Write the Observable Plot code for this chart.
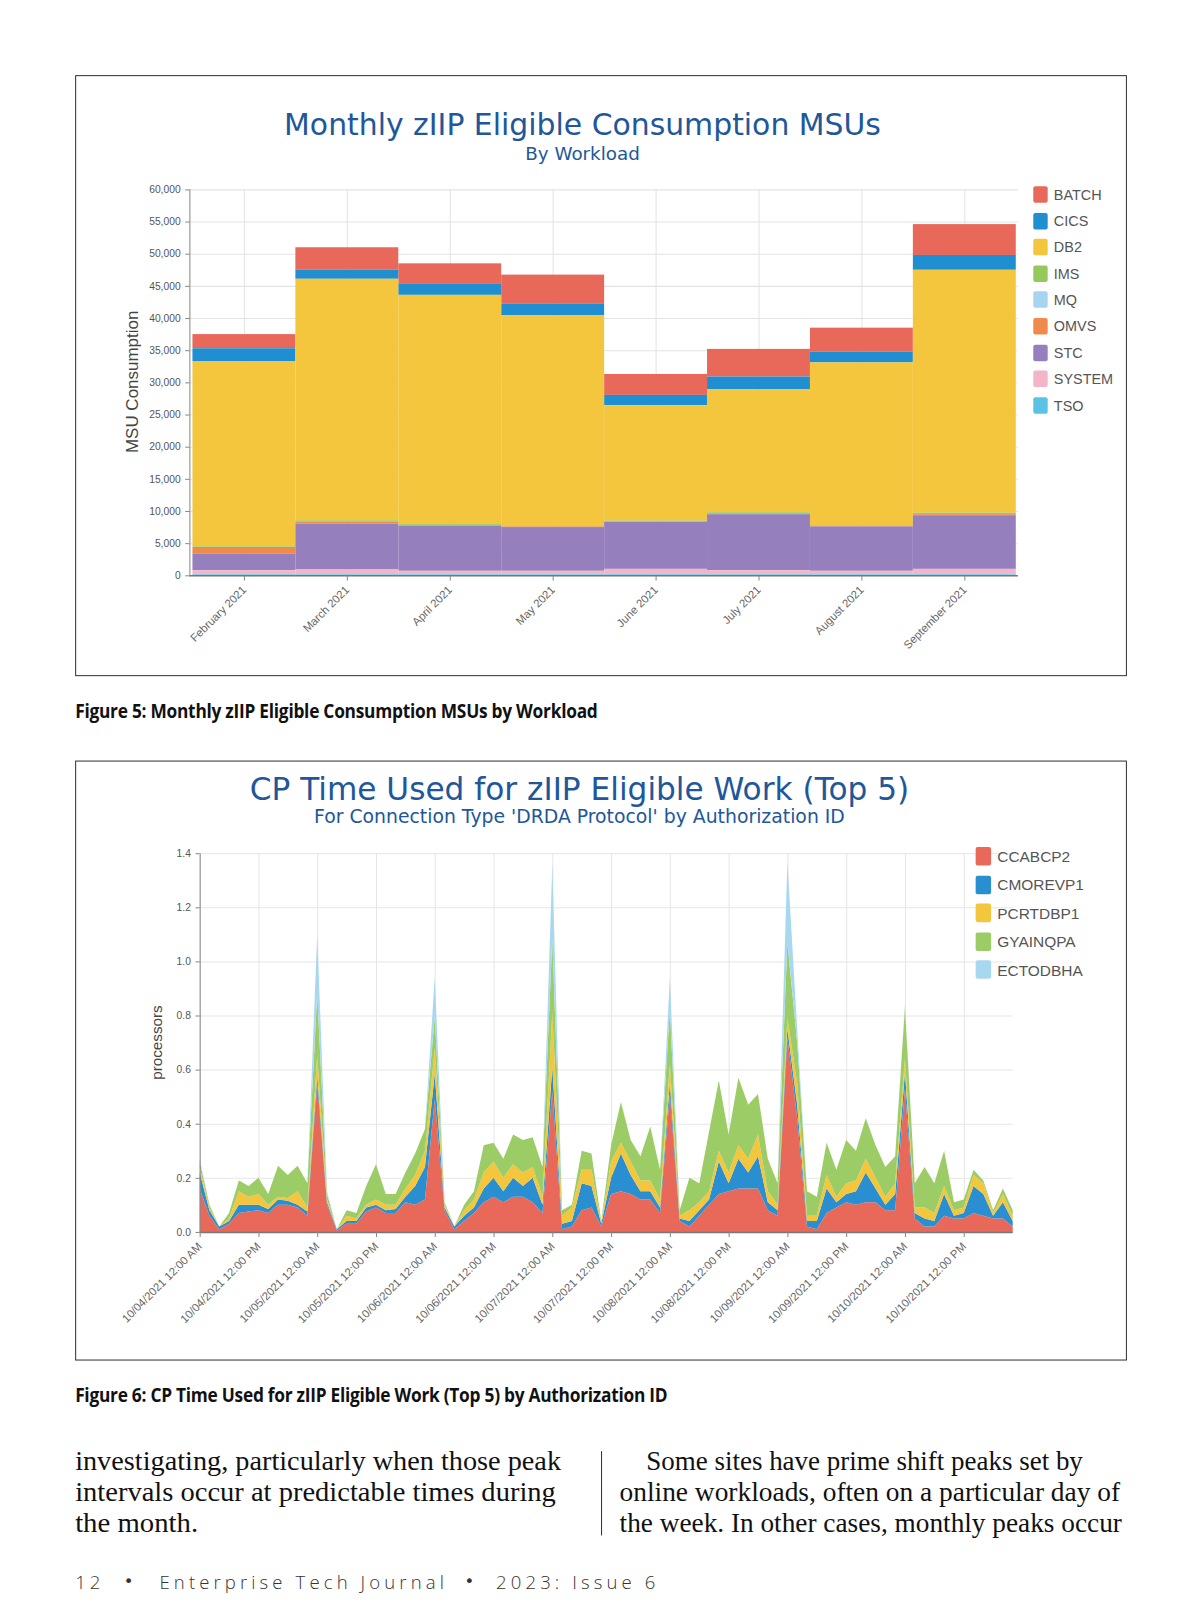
<!DOCTYPE html>
<html><head><meta charset="utf-8">
<script src="https://cdn.jsdelivr.net/npm/d3@7"></script>
<script src="https://cdn.jsdelivr.net/npm/@observablehq/plot@0.6"></script>
<style>
html,body{margin:0;padding:0;background:#fff;}
body{width:1200px;height:1613px;overflow:hidden;position:relative;}
#page{position:absolute;left:0;top:0;width:1166px;height:1568px;font-family:"Liberation Sans",Arial,sans-serif;background:#fff;transform:scale(1.02916);transform-origin:0 0;}
.box{position:absolute;border:1.3px solid #333;box-sizing:border-box;background:#fff;}
.ttl{position:absolute;transform:translate(-50%,-50%);white-space:nowrap;color:#21579a;font-family:"DejaVu Sans",Verdana,sans-serif;line-height:1;}
.plotwrap{position:absolute;}
.leg{position:absolute;display:flex;align-items:center;white-space:nowrap;color:#555;transform:translateY(-50%);}
.sw{display:inline-block;border-radius:2px;}
.ylab{position:absolute;transform:translate(-50%,-50%) rotate(-90deg);white-space:nowrap;color:#444;line-height:1;}
.fit{position:absolute;white-space:nowrap;line-height:1;transform-origin:0 50%;}
.cap{font-family:"Open Sans",sans-serif;font-weight:700;font-size:19.5px;color:#111;letter-spacing:-0.3px;}
.body{font-family:"Liberation Serif",serif;font-size:27px;color:#111;}
.rule{position:absolute;background:#333;}
.foot{position:absolute;font-family:"Open Sans",sans-serif;font-weight:300;font-size:18px;letter-spacing:4px;color:#333;white-space:pre;line-height:1;transform:translateY(-50%);}
.bul{position:absolute;font-family:"DejaVu Sans",sans-serif;font-size:16px;color:#333;line-height:1;transform:translate(-50%,-50%);}
</style></head>
<body><div id="page"></div>
<script>
// ---------- Figure 5 data ----------
const months = ["February 2021","March 2021","April 2021","May 2021","June 2021","July 2021","August 2021","September 2021"];
const workloads = ["BATCH","CICS","DB2","IMS","MQ","OMVS","STC","SYSTEM","TSO"];
const workloadColors = ["#e8695a","#1f8fd1","#f4c63d","#95c95b","#a6d5f1","#f08a4b","#9580bd","#f4b5c9","#5bc2e7"];
const batch  = [2200, 3500, 3200, 4550, 3250, 4300, 3700, 4800];
const cics   = [2050, 1400, 1700, 1800, 1600, 2000, 1700, 2300];
const db2    = [28750, 37550, 35650, 32650, 17950, 19100, 25300, 37750];
const ims    = [100, 200, 150, 150, 100, 150, 100, 250];
const mq     = [0, 0, 0, 0, 0, 0, 0, 0];
const omvs   = [1000, 300, 100, 100, 100, 150, 100, 150];
const stc    = [2600, 7150, 7000, 6800, 7300, 8700, 6900, 8350];
const system = [650, 750, 550, 550, 850, 650, 550, 850];
const tso    = [150, 150, 150, 150, 150, 150, 150, 150];
const msuTicks = [0,5000,10000,15000,20000,25000,30000,35000,40000,45000,50000,55000,60000];

// ---------- Figure 6 data (2-hour intervals from 10/04/2021 12:00 AM) ----------
const authIds = ["CCABCP2","CMOREVP1","PCRTDBP1","GYAINQPA","ECTODBHA"];
const authColors = ["#e8695a","#2a8fd0","#f4c63d","#9ccc65","#a8d8f0"];
const ccabcp2 = [
0.16,0.06,0.01,0.03,0.07,0.075,0.08,0.07,0.10,0.10,0.09,0.06,
0.55,0.10,0.005,0.03,0.03,0.075,0.09,0.07,0.07,0.11,0.10,0.12,
0.49,0.08,0.01,0.04,0.07,0.11,0.13,0.11,0.13,0.13,0.11,0.07,
0.52,0.01,0.02,0.08,0.09,0.02,0.14,0.15,0.14,0.12,0.12,0.07,
0.51,0.04,0.02,0.06,0.10,0.14,0.15,0.16,0.16,0.16,0.08,0.06,
0.72,0.42,0.02,0.01,0.07,0.09,0.11,0.10,0.11,0.11,0.08,0.08,
0.53,0.05,0.02,0.02,0.06,0.05,0.05,0.07,0.06,0.05,0.05,0.02];
const cmorevp1 = [
0.06,0.02,0.01,0.01,0.03,0.025,0.02,0.015,0.02,0.015,0.01,0.015,
0.03,0.01,0.005,0.01,0.01,0.015,0.01,0.01,0.015,0.02,0.07,0.12,
0.095,0.01,0.01,0.02,0.02,0.05,0.07,0.04,0.07,0.04,0.09,0.03,
0.09,0.02,0.02,0.10,0.08,0.01,0.06,0.14,0.07,0.03,0.03,0.02,
0.04,0.01,0.02,0.02,0.02,0.12,0.03,0.11,0.06,0.12,0.03,0.02,
0.03,0.05,0.02,0.03,0.09,0.02,0.03,0.05,0.11,0.05,0.02,0.06,
0.06,0.02,0.03,0.02,0.08,0.01,0.02,0.10,0.08,0.01,0.06,0.02];
const pcrtdbp1 = [
0.02,0.01,0,0.01,0.05,0.03,0.04,0.015,0.01,0.01,0.05,0.015,
0.07,0.01,0,0.02,0.01,0.01,0.02,0.02,0.015,0.03,0.04,0.06,
0.095,0.01,0,0.02,0.03,0.06,0.06,0.05,0.05,0.05,0.04,0.03,
0.20,0.03,0.05,0.05,0.06,0.005,0.06,0.04,0.05,0.04,0.04,0.03,
0.07,0.01,0.04,0.03,0.03,0.04,0.04,0.05,0.05,0.08,0.04,0.02,
0.04,0.08,0.02,0.02,0.05,0.02,0.04,0.04,0.05,0.04,0.03,0.04,
0.05,0.02,0.04,0.03,0.03,0.02,0.02,0.04,0.04,0.01,0.03,0.02];
const gyainqpa = [
0.02,0.01,0,0.02,0.04,0.04,0.06,0.04,0.115,0.085,0.095,0.09,
0.23,0.02,0,0.02,0.02,0.07,0.13,0.04,0.04,0.06,0.08,0.08,
0.115,0.01,0,0.02,0.03,0.10,0.07,0.07,0.11,0.12,0.11,0.11,
0.27,0.02,0.01,0.07,0.06,0.005,0.06,0.15,0.08,0.09,0.20,0.11,
0.20,0.02,0.12,0.07,0.22,0.26,0.14,0.25,0.20,0.15,0.12,0.08,
0.28,0.15,0.09,0.07,0.12,0.10,0.16,0.11,0.15,0.12,0.11,0.10,
0.19,0.09,0.15,0.11,0.13,0.03,0.03,0.02,0.01,0.01,0.02,0.02];
const ectodbha = [
0.01,0,0,0,0,0,0,0,0,0,0,0,
0.22,0.01,0,0,0,0,0,0,0,0,0,0,
0.145,0,0,0,0,0,0,0,0,0,0,0,
0.28,0,0,0,0,0,0,0,0,0,0,0,
0.12,0,0,0,0,0,0,0,0,0,0,0,
0.30,0.05,0,0,0,0,0,0,0,0,0,0,
0.01,0,0,0,0,0,0,0,0,0,0,0];
const cpuTicks = [0,0.2,0.4,0.6,0.8,1.0,1.2,1.4];
const stepHours = 2;

const page = document.getElementById("page");
function el(tag, cls, css, text){const e=document.createElement(tag); if(cls) e.className=cls; if(css) Object.assign(e.style, css); if(text!=null) e.textContent=text; page.appendChild(e); return e;}
// place a single line of text and stretch/shrink it horizontally to a target width
function fitLine(cls, text, x, yCenter, target){
  const e = el("div","fit "+cls,{left:x+"px",top:yCenter+"px"},text);
  const w = e.offsetWidth;
  const s = target ? target / w : 1;
  e.style.transform = "translateY(-50%) scaleX(" + s + ")";
  return e;
}

// ---------- Figure 5 ----------
el("div","box",{left:"73px",top:"73px",width:"1022px",height:"584px"});
el("div","ttl",{left:"566px",top:"122px",fontSize:"29px"},"Monthly zIIP Eligible Consumption MSUs");
el("div","ttl",{left:"566px",top:"149px",fontSize:"17.8px"},"By Workload");

const series1 = {BATCH:batch,CICS:cics,DB2:db2,IMS:ims,MQ:mq,OMVS:omvs,STC:stc,SYSTEM:system,TSO:tso};
const rows1 = workloads.flatMap(w => months.map((m,i)=>({month:m, workload:w, msu:series1[w][i]})));
const stackOrder1 = workloads.slice().reverse();

const p1 = Plot.plot({
  width:1019, height:470, marginLeft:110, marginRight:104, marginTop:14, marginBottom:81,
  style:{fontFamily:"'Liberation Sans', Arial, sans-serif", fontSize:"10px", color:"#555", background:"transparent", overflow:"visible"},
  x:{type:"band", domain:months, padding:0, label:null},
  y:{domain:[0,60000], label:null},
  color:{domain:workloads, range:workloadColors},
  marks:[
    Plot.gridY(msuTicks,{stroke:"#e3e3e3", strokeOpacity:1}),
    Plot.gridX({stroke:"#e3e3e3", strokeOpacity:1}),
    Plot.barY(rows1,{x:"month", y:"msu", fill:"workload", order:stackOrder1}),
    Plot.ruleY([0],{stroke:"#777", strokeWidth:1.5}),
    Plot.frame({anchor:"left", stroke:"#888"}),
    Plot.axisY(msuTicks,{tickFormat:d3.format(","), tickSize:4, label:null, stroke:"#888", fill:"#555"}),
    Plot.axisX({tickRotate:-45, tickSize:5, label:null, stroke:"#888", fill:"#666", fontSize:11})
  ]
});
const w1 = el("div","plotwrap",{left:"74px",top:"170px"}); w1.appendChild(p1);

workloads.forEach((w,i)=>{
  const it = el("div","leg",{left:"1004px",top:(189+i*25.6)+"px",fontSize:"14px"});
  const s=document.createElement("span"); s.className="sw"; Object.assign(s.style,{width:"14px",height:"16px",background:workloadColors[i],marginRight:"6px"}); it.appendChild(s);
  it.appendChild(document.createTextNode(w));
});
el("div","ylab",{left:"128px",top:"371px",fontSize:"16.5px"},"MSU Consumption");

fitLine("cap","Figure 5: Monthly zIIP Eligible Consumption MSUs by Workload",73,690,508);

// ---------- Figure 6 ----------
el("div","box",{left:"73px",top:"739px",width:"1022px",height:"583px"});
el("div","ttl",{left:"563px",top:"767px",fontSize:"30.3px"},"CP Time Used for zIIP Eligible Work (Top 5)");
el("div","ttl",{left:"563px",top:"794px",fontSize:"18.3px"},"For Connection Type 'DRDA Protocol' by Authorization ID");

const series2 = {CCABCP2:ccabcp2, CMOREVP1:cmorevp1, PCRTDBP1:pcrtdbp1, GYAINQPA:gyainqpa, ECTODBHA:ectodbha};
const rows2 = authIds.flatMap(id => series2[id].map((v,i)=>({time:new Date(2021,9,4,i*stepHours), id, cpu:v})));
const tStart = new Date(2021,9,4,0), tEnd = new Date(2021,9,4,(ccabcp2.length-1)*stepHours);
const timeTicks = d3.timeHour.every(12).range(tStart, tEnd);
const fmt2 = d3.timeFormat("%m/%d/%Y %I:%M %p");

const p2 = Plot.plot({
  width:1019, height:492, marginLeft:120, marginRight:109, marginTop:14, marginBottom:110,
  style:{fontFamily:"'Liberation Sans', Arial, sans-serif", fontSize:"10px", color:"#555", background:"transparent", overflow:"visible"},
  x:{type:"time", domain:[tStart,tEnd], label:null},
  y:{domain:[0,1.4], label:null},
  color:{domain:authIds, range:authColors},
  marks:[
    Plot.gridY(cpuTicks,{stroke:"#e6e6e6", strokeOpacity:1}),
    Plot.gridX(timeTicks,{stroke:"#e6e6e6", strokeOpacity:1}),
    Plot.areaY(rows2,{x:"time", y:"cpu", fill:"id", order:authIds, curve:"linear"}),
    Plot.ruleY([0],{stroke:"#777", strokeWidth:1.5}),
    Plot.frame({anchor:"left", stroke:"#888"}),
    Plot.axisY(cpuTicks,{tickFormat:d3.format(".1f"), tickSize:4, label:null, stroke:"#888", fill:"#555"}),
    Plot.axisX(timeTicks,{tickFormat:fmt2, tickRotate:-45, tickSize:5, label:null, stroke:"#888", fill:"#666", fontSize:11})
  ]
});
const w2 = el("div","plotwrap",{left:"74px",top:"815px"}); w2.appendChild(p2);

authIds.forEach((id,i)=>{
  const it = el("div","leg",{left:"948px",top:(832+i*27.6)+"px",fontSize:"15px"});
  const s=document.createElement("span"); s.className="sw"; Object.assign(s.style,{width:"15px",height:"18px",background:authColors[i],marginRight:"6px"}); it.appendChild(s);
  it.appendChild(document.createTextNode(id));
});
el("div","ylab",{left:"153px",top:"1013px",fontSize:"14.8px"},"processors");

fitLine("cap","Figure 6: CP Time Used for zIIP Eligible Work (Top 5) by Authorization ID",73,1355,575);

// ---------- Body text ----------
fitLine("body","investigating, particularly when those peak",73,1420,472);
fitLine("body","intervals occur at predictable times during",73,1450,467);
fitLine("body","the month.",73,1480,120);
fitLine("body","Some sites have prime shift peaks set by",628,1420,424);
fitLine("body","online workloads, often on a particular day of",602,1450,486);
fitLine("body","the week. In other cases, monthly peaks occur",602,1480,488);
el("div","rule",{left:"584px",top:"1410px",width:"1px",height:"82px"});

// ---------- Footer ----------
el("div","foot",{left:"73px",top:"1537px"},"12");
el("div","bul",{left:"125px",top:"1537px"},"•");
el("div","foot",{left:"155px",top:"1537px"},"Enterprise Tech Journal");
el("div","bul",{left:"456px",top:"1537px"},"•");
el("div","foot",{left:"482px",top:"1537px"},"2023: Issue 6");
</script>
</body></html>
